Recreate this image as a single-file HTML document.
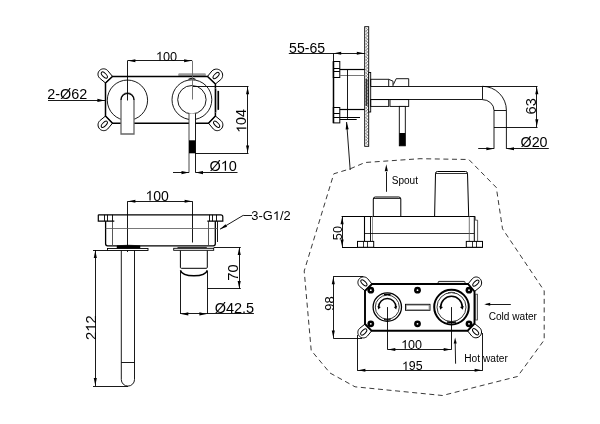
<!DOCTYPE html>
<html><head><meta charset="utf-8"><style>
html,body{margin:0;padding:0;background:#fff;}
svg{display:block;font-family:"Liberation Sans",sans-serif;will-change:transform;}
</style></head><body>
<svg width="600" height="424" viewBox="0 0 600 424">
<rect x="0" y="0" width="600" height="424" fill="#fff"/>
<path d="M112.50,76.40 L107.57,70.48 C105.42,68.33 101.88,68.28 99.67,70.37 C97.45,72.45 97.40,75.89 99.55,78.04 L105.50,83.00 Z" stroke="#000" stroke-width="1.0" fill="#fff" />
<ellipse cx="104.33" cy="75.03" rx="3.9" ry="1.8" transform="rotate(225 104.33 75.03)" stroke="#000" stroke-width="1.0" fill="none"/>
<path d="M215.40,84.00 L220.87,79.52 C223.28,77.11 223.24,73.23 220.78,70.87 C218.32,68.50 214.37,68.54 211.96,70.95 L207.50,76.40 Z" stroke="#000" stroke-width="1.0" fill="#fff" />
<ellipse cx="216.12" cy="75.53" rx="3.9" ry="1.8" transform="rotate(-45 216.12 75.53)" stroke="#000" stroke-width="1.0" fill="none"/>
<path d="M105.50,116.00 L99.72,120.79 C97.49,123.02 97.46,126.67 99.67,128.93 C101.87,131.20 105.47,131.22 107.70,128.99 L112.50,123.20 Z" stroke="#000" stroke-width="1.0" fill="#fff" />
<ellipse cx="104.33" cy="124.27" rx="3.9" ry="1.8" transform="rotate(135 104.33 124.27)" stroke="#000" stroke-width="1.0" fill="none"/>
<path d="M208.50,123.20 L213.33,129.02 C215.55,131.24 219.11,131.20 221.28,128.93 C223.46,126.67 223.42,123.03 221.20,120.81 L215.40,116.00 Z" stroke="#000" stroke-width="1.0" fill="#fff" />
<ellipse cx="216.62" cy="124.27" rx="3.9" ry="1.8" transform="rotate(45 216.62 124.27)" stroke="#000" stroke-width="1.0" fill="none"/>
<rect x="178.3" y="73.2" width="27.5" height="3.4" rx="1" stroke="#000" stroke-width="0" fill="#9a9a9a"/>
<path d="M112.5,76.4 L207.5,76.4 L215.4,84 L215.4,116 L208.5,123.2 L112.5,123.2 L105.5,116 L105.5,83 Z" stroke="#000" stroke-width="1.5" fill="none" />
<rect x="217.4" y="90.8" width="1.7" height="19.2" rx="0.8" stroke="#000" stroke-width="0" fill="#000"/>
<path d="M215.4,88 Q216.8,89 216.8,91 L216.8,110 Q216.8,112 215.4,113" stroke="#888" stroke-width="0.7" fill="none" />
<circle cx="127.45" cy="100.2" r="20.15" stroke="#000" stroke-width="0.9" fill="none"/>
<circle cx="191.9" cy="99.7" r="19.9" stroke="#000" stroke-width="0.9" fill="none"/>
<circle cx="191.9" cy="99.7" r="14.2" stroke="#000" stroke-width="0.9" fill="none"/>
<path d="M121,134 L121,99.5 A6.5,6.5 0 0 1 134,99.5 L134,134 Z" stroke="#666" stroke-width="1.3" fill="#fff" />
<path d="M121,100 A6.5,6.5 0 0 1 134,100" stroke="#000" stroke-width="1.1" fill="none" />
<rect x="189" y="113.4" width="6.5" height="59.2" rx="0" stroke="#000" stroke-width="0" fill="#fff"/>
<path d="M189,113.4 L189,172.6" stroke="#333" stroke-width="0.9" fill="none" />
<line x1="195.5" y1="113.4" x2="195.5" y2="172.6" stroke="#000" stroke-width="0.9" />
<rect x="189" y="140.3" width="6.5" height="13" rx="0" stroke="#000" stroke-width="0" fill="#000"/>
<path d="M188.5,79.6 Q192,77.2 195.5,79.6" stroke="#222" stroke-width="1.2" fill="none" />
<line x1="127.5" y1="60.7" x2="127.5" y2="100.5" stroke="#000" stroke-width="0.9" />
<line x1="192.5" y1="60.7" x2="192.5" y2="99.5" stroke="#666" stroke-width="0.9" />
<line x1="127.5" y1="60.5" x2="192" y2="60.5" stroke="#000" stroke-width="0.9" />
<path d="M128.10,60.70 L135.40,59.15 L135.40,62.25 Z" fill="#000" stroke="none"/>
<path d="M191.40,60.70 L184.10,62.25 L184.10,59.15 Z" fill="#000" stroke="none"/>
<line x1="48" y1="100.5" x2="105" y2="100.5" stroke="#000" stroke-width="0.9" />
<path d="M104.70,100.40 L97.40,101.95 L97.40,98.85 Z" fill="#000" stroke="none"/>
<line x1="193" y1="86.5" x2="248.5" y2="86.5" stroke="#000" stroke-width="0.9" />
<line x1="195" y1="153.5" x2="248.5" y2="153.5" stroke="#000" stroke-width="0.9" />
<line x1="247.5" y1="86.3" x2="247.5" y2="153.3" stroke="#000" stroke-width="0.9" />
<path d="M247.60,86.90 L249.15,94.20 L246.05,94.20 Z" fill="#000" stroke="none"/>
<path d="M247.60,152.70 L246.05,145.40 L249.15,145.40 Z" fill="#000" stroke="none"/>
<line x1="173" y1="172.5" x2="189" y2="172.5" stroke="#000" stroke-width="0.9" />
<path d="M188.80,172.60 L181.50,174.15 L181.50,171.05 Z" fill="#000" stroke="none"/>
<line x1="195.5" y1="172.5" x2="237.5" y2="172.5" stroke="#000" stroke-width="0.9" />
<path d="M195.70,172.60 L203.00,171.05 L203.00,174.15 Z" fill="#000" stroke="none"/>
<rect x="364.7" y="26.7" width="4" height="119.6" rx="0" stroke="#000" stroke-width="0.9" fill="#fff"/>
<path d="M365.6,28 L367.8,29.6 L365.6,31.2 L367.8,32.8 L365.6,34.4 L367.8,36.0 L365.6,37.6 L367.8,39.2 L365.6,40.8 L367.8,42.4 L365.6,44.0 L367.8,45.6 L365.6,47.2 L367.8,48.8 L365.6,50.4 L367.8,52.0 L365.6,53.6 L367.8,55.2 L365.6,56.8 L367.8,58.4 L365.6,60.0 L367.8,61.6 L365.6,63.2 L367.8,64.8 L365.6,66.4 L367.8,68.0 L365.6,69.6 L367.8,71.2 L365.6,72.8 L367.8,74.4 L365.6,76.0 L367.8,77.6 L365.6,79.2 L367.8,80.8 L365.6,82.4 L367.8,84.0 L365.6,85.6 L367.8,87.2 L365.6,88.8 L367.8,90.4 L365.6,92.0 L367.8,93.6 L365.6,95.2 L367.8,96.8 L365.6,98.4 L367.8,100.0 L365.6,101.6 L367.8,103.2 L365.6,104.8 L367.8,106.4 L365.6,108.0 L367.8,109.6 L365.6,111.2 L367.8,112.8 L365.6,114.4 L367.8,116.0 L365.6,117.6 L367.8,119.2 L365.6,120.8 L367.8,122.4 L365.6,124.0 L367.8,125.6 L365.6,127.2 L367.8,128.8 L365.6,130.4 L367.8,132.0 L365.6,133.6 L367.8,135.2 L365.6,136.8 L367.8,138.4 L365.6,140.0 L367.8,141.6 L365.6,143.2 L367.8,144.8" stroke="#444" stroke-width="0.6" fill="none" />
<rect x="365.6" y="79" width="1.8" height="27" rx="0" stroke="#000" stroke-width="0" fill="#333"/>
<line x1="288.8" y1="53.5" x2="365" y2="53.5" stroke="#000" stroke-width="0.9" />
<path d="M333.90,53.30 L341.20,51.75 L341.20,54.85 Z" fill="#000" stroke="none"/>
<path d="M364.10,53.30 L356.80,54.85 L356.80,51.75 Z" fill="#000" stroke="none"/>
<line x1="333.5" y1="53.3" x2="333.5" y2="62" stroke="#000" stroke-width="0.9" />
<line x1="333.5" y1="61.5" x2="333.5" y2="123" stroke="#000" stroke-width="1.5" />
<rect x="333.3" y="61.5" width="6.5" height="16" rx="0" stroke="#000" stroke-width="1.0" fill="none"/>
<line x1="333.3" y1="68.5" x2="339.8" y2="68.5" stroke="#000" stroke-width="1.0" />
<line x1="333.3" y1="71.5" x2="339.8" y2="71.5" stroke="#000" stroke-width="1.0" />
<rect x="333.3" y="107.5" width="6.5" height="15.4" rx="0" stroke="#000" stroke-width="1.0" fill="none"/>
<line x1="333.3" y1="113.5" x2="339.8" y2="113.5" stroke="#000" stroke-width="1.0" />
<line x1="333.3" y1="117.5" x2="339.8" y2="117.5" stroke="#000" stroke-width="1.0" />
<line x1="339.8" y1="69.5" x2="364.6" y2="69.5" stroke="#000" stroke-width="1.2" />
<line x1="339.8" y1="75.5" x2="364.6" y2="75.5" stroke="#777" stroke-width="1.0" />
<line x1="339.8" y1="109.5" x2="364.6" y2="109.5" stroke="#000" stroke-width="1.2" />
<line x1="339.8" y1="117.5" x2="360" y2="117.5" stroke="#000" stroke-width="1.0" />
<line x1="339.8" y1="119.5" x2="356.7" y2="119.5" stroke="#000" stroke-width="1.0" />
<line x1="347.5" y1="69.3" x2="347.5" y2="118.8" stroke="#000" stroke-width="0.9" />
<rect x="368.7" y="72.5" width="2" height="39.5" rx="0" stroke="#000" stroke-width="0.9" fill="#fff"/>
<path d="M370.7,86.3 L370.7,79.3 L388.7,79.3 L388.7,86.3 M388.7,79.3 L393,81.2 L393,86.3 M393.4,84.5 L396.2,78.7 L408.7,78.7 L408.7,86.3" stroke="#000" stroke-width="0.9" fill="none" />
<rect x="370.7" y="99.6" width="18" height="6.8" rx="0" stroke="#000" stroke-width="0.9" fill="none"/>
<rect x="390" y="99.6" width="18.7" height="6.8" rx="0" stroke="#000" stroke-width="0.9" fill="none"/>
<line x1="370.7" y1="86.5" x2="482.3" y2="86.5" stroke="#000" stroke-width="0.9" />
<line x1="370.7" y1="99.5" x2="482.3" y2="99.5" stroke="#000" stroke-width="0.9" />
<line x1="482.5" y1="86.3" x2="482.5" y2="99.6" stroke="#000" stroke-width="0.9" />
<path d="M482.3,86.3 A24.1,24 0 0 1 506.4,110.3 L506.4,148.8" stroke="#000" stroke-width="0.9" fill="none" />
<path d="M482.3,99.6 A11.7,10.7 0 0 1 494,110.3 L494,148.8" stroke="#000" stroke-width="0.9" fill="none" />
<line x1="494" y1="110.5" x2="506.4" y2="110.5" stroke="#000" stroke-width="0.9" />
<rect x="399.3" y="106.4" width="6" height="39.4" rx="0" stroke="#000" stroke-width="0.9" fill="#fff"/>
<rect x="399.3" y="133" width="6" height="12.8" rx="0" stroke="#000" stroke-width="0" fill="#000"/>
<line x1="482.3" y1="86.5" x2="537.5" y2="86.5" stroke="#000" stroke-width="0.9" />
<line x1="494" y1="127.5" x2="537.5" y2="127.5" stroke="#000" stroke-width="0.9" />
<line x1="536.5" y1="86.3" x2="536.5" y2="127.2" stroke="#000" stroke-width="0.9" />
<path d="M536.80,86.90 L538.35,94.20 L535.25,94.20 Z" fill="#000" stroke="none"/>
<path d="M536.80,126.60 L535.25,119.30 L538.35,119.30 Z" fill="#000" stroke="none"/>
<line x1="478.2" y1="148.5" x2="494" y2="148.5" stroke="#000" stroke-width="0.9" />
<path d="M493.70,148.80 L486.40,150.35 L486.40,147.25 Z" fill="#000" stroke="none"/>
<line x1="506.4" y1="148.5" x2="548.8" y2="148.5" stroke="#000" stroke-width="0.9" />
<path d="M506.70,148.80 L514.00,147.25 L514.00,150.35 Z" fill="#000" stroke="none"/>
<line x1="346.6" y1="122" x2="350.2" y2="170" stroke="#000" stroke-width="0.9" />
<path d="M346.60,122.00 L348.69,129.16 L345.60,129.40 Z" fill="#000" stroke="none"/>
<path d="M350.2,168.8 L365,162.5 L420,158.7 L468.8,159.5 L496.3,187.5 L502.5,228.8 L544.2,290.8 L544.2,340 L517.5,376.5 L442.5,395.5 L355,386.8 L330,373 L311.2,350.4 L304.2,271 L333.8,173.8 L350.2,168.8" stroke="#222" stroke-width="0.9" fill="none" stroke-dasharray="5,3.6" stroke-linejoin="round"/>
<line x1="127.5" y1="201.5" x2="192.5" y2="201.5" stroke="#000" stroke-width="0.9" />
<path d="M128.10,201.30 L135.40,199.75 L135.40,202.85 Z" fill="#000" stroke="none"/>
<path d="M191.90,201.30 L184.60,202.85 L184.60,199.75 Z" fill="#000" stroke="none"/>
<line x1="127.5" y1="201.3" x2="127.5" y2="252" stroke="#000" stroke-width="0.9" />
<line x1="192.5" y1="201.3" x2="192.5" y2="242.5" stroke="#000" stroke-width="0.9" />
<path d="M105.6,221.2 L105.6,243.8 Q105.6,245.8 107.6,245.8 L213.3,245.8 Q215.3,245.8 215.3,243.8 L215.3,221.2" stroke="#000" stroke-width="1.3" fill="none" />
<line x1="112.5" y1="221.2" x2="112.5" y2="245.8" stroke="#444" stroke-width="0.9" />
<line x1="208.5" y1="221.2" x2="208.5" y2="245.8" stroke="#444" stroke-width="0.9" />
<line x1="217.5" y1="221.2" x2="217.5" y2="242" stroke="#000" stroke-width="0.9" />
<line x1="105.6" y1="228.5" x2="217.6" y2="228.5" stroke="#555" stroke-width="0.8" />
<path d="M98.3,214.8 L220.8,214.8 Q222.8,214.8 222.8,216.8 L222.8,221.2 L207.3,221.2" stroke="#000" stroke-width="1.2" fill="none" />
<path d="M114.3,221.2 L98.3,221.2 L98.3,214.8" stroke="#000" stroke-width="1.2" fill="none" />
<line x1="104.5" y1="214.8" x2="104.5" y2="221.2" stroke="#000" stroke-width="0.9" />
<line x1="107.5" y1="214.8" x2="107.5" y2="221.2" stroke="#000" stroke-width="0.9" />
<line x1="112.5" y1="214.8" x2="112.5" y2="221.2" stroke="#000" stroke-width="0.9" />
<line x1="209.5" y1="214.8" x2="209.5" y2="221.2" stroke="#000" stroke-width="0.9" />
<line x1="212.5" y1="214.8" x2="212.5" y2="221.2" stroke="#000" stroke-width="0.9" />
<line x1="216.5" y1="214.8" x2="216.5" y2="221.2" stroke="#000" stroke-width="0.9" />
<path d="M117,245.8 Q128.5,244.5 140,245.8 L140,248.5 L117,248.5 Z" stroke="#000" stroke-width="0.5" fill="#000" />
<rect x="107.5" y="248.5" width="40.5" height="2" rx="0" stroke="#000" stroke-width="0.9" fill="#fff"/>
<rect x="173.7" y="248.3" width="40" height="2" rx="0" stroke="#000" stroke-width="0.9" fill="#fff"/>
<path d="M121.3,250.5 L121.3,379.5 A6.6,6.6 0 0 0 134.5,379.5 L134.5,250.5" stroke="#000" stroke-width="0.9" fill="none" />
<line x1="121.3" y1="362.5" x2="134.5" y2="362.5" stroke="#000" stroke-width="0.9" />
<line x1="93" y1="250.5" x2="107.5" y2="250.5" stroke="#000" stroke-width="0.9" />
<line x1="93" y1="386.5" x2="128" y2="386.5" stroke="#000" stroke-width="0.9" />
<line x1="95.5" y1="250" x2="95.5" y2="386" stroke="#000" stroke-width="0.9" />
<path d="M95.30,250.60 L96.85,257.90 L93.75,257.90 Z" fill="#000" stroke="none"/>
<path d="M95.30,385.40 L93.75,378.10 L96.85,378.10 Z" fill="#000" stroke="none"/>
<line x1="177.5" y1="247.5" x2="206.8" y2="247.5" stroke="#333" stroke-width="1.2" />
<path d="M180.4,250.6 L180.4,267.3 Q180.4,268.3 181.4,268.3 L206.3,268.3 Q207.3,268.3 207.3,267.3 L207.3,250.6" stroke="#000" stroke-width="1.0" fill="none" />
<path d="M180.4,270.2 Q182,275.8 193.9,275.8 Q205.8,275.8 207.3,270.2" stroke="#000" stroke-width="1.4" fill="none" />
<line x1="180.5" y1="271" x2="180.5" y2="313.9" stroke="#000" stroke-width="0.9" />
<line x1="207.5" y1="271" x2="207.5" y2="313.9" stroke="#000" stroke-width="0.9" />
<line x1="213.7" y1="247.5" x2="240.8" y2="247.5" stroke="#000" stroke-width="0.9" />
<line x1="207.5" y1="288.5" x2="240.8" y2="288.5" stroke="#000" stroke-width="0.9" />
<line x1="239.5" y1="247.2" x2="239.5" y2="288.8" stroke="#000" stroke-width="0.9" />
<path d="M239.20,247.80 L240.75,255.10 L237.65,255.10 Z" fill="#000" stroke="none"/>
<path d="M239.20,288.20 L237.65,280.90 L240.75,280.90 Z" fill="#000" stroke="none"/>
<line x1="180.3" y1="313.5" x2="253.9" y2="313.5" stroke="#000" stroke-width="0.9" />
<path d="M181.00,313.90 L188.30,312.35 L188.30,315.45 Z" fill="#000" stroke="none"/>
<path d="M206.70,313.90 L199.40,315.45 L199.40,312.35 Z" fill="#000" stroke="none"/>
<line x1="220" y1="229.2" x2="243.3" y2="215.3" stroke="#000" stroke-width="0.9" />
<line x1="243.3" y1="215.5" x2="252" y2="215.5" stroke="#000" stroke-width="0.9" />
<path d="M220.00,229.20 L225.49,224.14 L227.07,226.81 Z" fill="#000" stroke="none"/>
<line x1="386.5" y1="172" x2="386.5" y2="191.8" stroke="#000" stroke-width="0.9" />
<path d="M386.30,164.30 L387.85,171.30 L384.75,171.30 Z" fill="#000" stroke="none"/>
<path d="M373.3,216.3 L373.3,199 Q373.3,197 375.3,197 L398.8,197 Q400.8,197 400.8,199 L400.8,216.3" stroke="#000" stroke-width="1.0" fill="none" />
<line x1="373.5" y1="198.5" x2="400.6" y2="198.5" stroke="#000" stroke-width="0.8" />
<path d="M434.6,216.3 L435.5,173.5 Q435.5,171.5 437.5,171.5 L465.5,171.5 Q467.5,171.5 467.5,173.5 L468.7,216.3" stroke="#000" stroke-width="1.0" fill="none" />
<line x1="435.5" y1="173.5" x2="467.5" y2="173.5" stroke="#000" stroke-width="0.8" />
<line x1="341.6" y1="216.5" x2="475" y2="216.5" stroke="#000" stroke-width="1.2" />
<line x1="342" y1="247.5" x2="482.5" y2="247.5" stroke="#000" stroke-width="1.2" />
<line x1="364.5" y1="216.3" x2="364.5" y2="241.4" stroke="#000" stroke-width="1.1" />
<line x1="370.5" y1="216.3" x2="370.5" y2="241.4" stroke="#000" stroke-width="0.9" />
<line x1="372.5" y1="216.3" x2="372.5" y2="241.4" stroke="#777" stroke-width="0.8" />
<line x1="364.7" y1="233.5" x2="474" y2="233.5" stroke="#000" stroke-width="0.8" />
<path d="M469.3,216.3 L469.3,241.4" stroke="#555" stroke-width="0.8" fill="none" />
<path d="M474.3,216.3 L474.3,241.4" stroke="#000" stroke-width="1.0" fill="none" />
<path d="M475.3,216.3 L475.3,220.2 L477.6,220.2 L477.6,241.4" stroke="#333" stroke-width="0.8" fill="none" />
<rect x="357.5" y="241.4" width="16.2" height="5.9" rx="0" stroke="#000" stroke-width="1.0" fill="#fff"/>
<line x1="363.5" y1="241.4" x2="363.5" y2="247.3" stroke="#000" stroke-width="0.8" />
<line x1="367.5" y1="241.4" x2="367.5" y2="247.3" stroke="#000" stroke-width="0.8" />
<rect x="466.3" y="241.4" width="16.2" height="5.9" rx="0" stroke="#000" stroke-width="1.0" fill="#fff"/>
<line x1="472.5" y1="241.4" x2="472.5" y2="247.3" stroke="#000" stroke-width="0.8" />
<line x1="476.5" y1="241.4" x2="476.5" y2="247.3" stroke="#000" stroke-width="0.8" />
<line x1="342.5" y1="216.3" x2="342.5" y2="247.3" stroke="#000" stroke-width="0.9" />
<path d="M342.10,216.90 L343.65,224.20 L340.55,224.20 Z" fill="#000" stroke="none"/>
<path d="M342.10,246.70 L340.55,239.40 L343.65,239.40 Z" fill="#000" stroke="none"/>
<line x1="333.3" y1="276.5" x2="363.3" y2="276.5" stroke="#000" stroke-width="0.9" />
<line x1="333.3" y1="338.5" x2="362" y2="338.5" stroke="#000" stroke-width="0.9" />
<line x1="333.5" y1="276.3" x2="333.5" y2="338.3" stroke="#000" stroke-width="0.9" />
<path d="M333.30,276.90 L334.85,284.20 L331.75,284.20 Z" fill="#000" stroke="none"/>
<path d="M333.30,337.70 L331.75,330.40 L334.85,330.40 Z" fill="#000" stroke="none"/>
<path d="M372.00,284.00 L367.54,278.55 C365.36,276.37 361.80,276.34 359.59,278.49 C357.38,280.64 357.35,284.14 359.53,286.32 L365.00,290.80 Z" stroke="#000" stroke-width="1.0" fill="#fff" />
<ellipse cx="363.90" cy="282.80" rx="3.9" ry="1.8" transform="rotate(225 363.90 282.80)" stroke="#000" stroke-width="1.0" fill="none"/>
<path d="M474.50,291.50 L479.86,287.12 C482.08,284.91 482.21,281.20 480.16,278.84 C478.11,276.48 474.66,276.35 472.45,278.57 L468.00,284.00 Z" stroke="#000" stroke-width="1.0" fill="#fff" />
<ellipse cx="475.85" cy="283.15" rx="3.9" ry="1.8" transform="rotate(-45 475.85 283.15)" stroke="#000" stroke-width="1.0" fill="none"/>
<path d="M365.00,324.00 L359.47,328.54 C357.33,330.68 357.32,334.16 359.44,336.31 C361.56,338.46 365.01,338.48 367.15,336.34 L371.70,330.80 Z" stroke="#000" stroke-width="1.0" fill="#fff" />
<ellipse cx="363.75" cy="332.00" rx="3.9" ry="1.8" transform="rotate(135 363.75 332.00)" stroke="#000" stroke-width="1.0" fill="none"/>
<path d="M467.50,330.80 L471.85,336.14 C474.10,338.39 477.71,338.35 479.91,336.06 C482.11,333.76 482.07,330.08 479.82,327.83 L474.50,323.50 Z" stroke="#000" stroke-width="1.0" fill="#fff" />
<ellipse cx="475.60" cy="331.75" rx="3.9" ry="1.8" transform="rotate(45 475.60 331.75)" stroke="#000" stroke-width="1.0" fill="none"/>
<rect x="438.2" y="281.4" width="26.8" height="2.8" rx="0.8" stroke="#222" stroke-width="1.0" fill="#eee"/>
<path d="M372,284 L468,284 L474.5,291.5 L474.5,323.5 L467.5,330.8 L371.7,330.8 L365,324 L365,290.8 Z" stroke="#000" stroke-width="1.9" fill="none" />
<rect x="475.4" y="294.2" width="2.1" height="25.8" rx="0" stroke="#333" stroke-width="0.8" fill="#ddd"/>
<circle cx="370.8" cy="290.2" r="3.4" stroke="#000" stroke-width="0" fill="#000"/>
<circle cx="370.8" cy="290.2" r="0.9" stroke="#000" stroke-width="0" fill="#fff"/>
<circle cx="417.5" cy="290.2" r="3.4" stroke="#000" stroke-width="0" fill="#000"/>
<circle cx="417.5" cy="290.2" r="0.9" stroke="#000" stroke-width="0" fill="#fff"/>
<circle cx="469" cy="290.2" r="3.4" stroke="#000" stroke-width="0" fill="#000"/>
<circle cx="469" cy="290.2" r="0.9" stroke="#000" stroke-width="0" fill="#fff"/>
<circle cx="370.8" cy="323.8" r="3.4" stroke="#000" stroke-width="0" fill="#000"/>
<circle cx="370.8" cy="323.8" r="0.9" stroke="#000" stroke-width="0" fill="#fff"/>
<circle cx="417.5" cy="323.8" r="3.4" stroke="#000" stroke-width="0" fill="#000"/>
<circle cx="417.5" cy="323.8" r="0.9" stroke="#000" stroke-width="0" fill="#fff"/>
<circle cx="469" cy="323.8" r="3.4" stroke="#000" stroke-width="0" fill="#000"/>
<circle cx="469" cy="323.8" r="0.9" stroke="#000" stroke-width="0" fill="#fff"/>
<circle cx="387.3" cy="307.1" r="14.2" stroke="#000" stroke-width="1.3" fill="none"/>
<circle cx="387.3" cy="307.1" r="12.0" stroke="#000" stroke-width="0.8" fill="none"/>
<path d="M378.7,307.1 A8.6,8.6 0 0 1 395.9,307.1" stroke="#000" stroke-width="1.5" fill="none" />
<path d="M378.40,309.40 L377.48,306.08 L380.78,306.90 Z" fill="#000" stroke="none"/>
<path d="M396.20,309.40 L393.82,306.90 L397.12,306.08 Z" fill="#000" stroke="none"/>
<path d="M384,294.6 Q387.3,294.0 390.6,294.6" stroke="#000" stroke-width="1.2" fill="none"/>
<path d="M384,319.6 Q387.3,320.2 390.6,319.6" stroke="#000" stroke-width="1.2" fill="none"/>
<circle cx="451.5" cy="307.1" r="17.3" stroke="#000" stroke-width="2.0" fill="none"/>
<circle cx="451.5" cy="307.1" r="14.5" stroke="#000" stroke-width="0.8" fill="none"/>
<path d="M440.7,307.1 A10.8,10.8 0 0 1 462.3,307.1" stroke="#000" stroke-width="1.6" fill="none" />
<path d="M440.30,309.80 L439.28,306.04 L442.97,306.96 Z" fill="#000" stroke="none"/>
<path d="M462.70,309.80 L460.03,306.96 L463.72,306.04 Z" fill="#000" stroke="none"/>
<path d="M448,292.6 Q451.5,292.0 455,292.6" stroke="#444" stroke-width="1.0" fill="none"/>
<path d="M447,322.0 Q451.5,322.8 456,322.0" stroke="#000" stroke-width="1.4" fill="none"/>
<rect x="405.5" y="304.3" width="24.5" height="6" rx="0" stroke="#000" stroke-width="0.9" fill="#fff"/>
<rect x="406.5" y="305.3" width="22.5" height="4" rx="0" stroke="#888" stroke-width="0.6" fill="none"/>
<line x1="387.5" y1="307.1" x2="387.5" y2="349.5" stroke="#000" stroke-width="0.9" />
<line x1="451.5" y1="307.1" x2="451.5" y2="349.5" stroke="#000" stroke-width="0.9" />
<line x1="387.4" y1="349.5" x2="451.6" y2="349.5" stroke="#000" stroke-width="0.9" />
<path d="M388.00,349.50 L395.30,347.95 L395.30,351.05 Z" fill="#000" stroke="none"/>
<path d="M451.00,349.50 L443.70,351.05 L443.70,347.95 Z" fill="#000" stroke="none"/>
<line x1="357.5" y1="335" x2="357.5" y2="370.8" stroke="#000" stroke-width="0.9" />
<line x1="482.5" y1="333" x2="482.5" y2="370.8" stroke="#000" stroke-width="0.9" />
<line x1="357.5" y1="370.5" x2="482.5" y2="370.5" stroke="#000" stroke-width="0.9" />
<path d="M358.10,370.30 L365.40,368.75 L365.40,371.85 Z" fill="#000" stroke="none"/>
<path d="M481.90,370.30 L474.60,371.85 L474.60,368.75 Z" fill="#000" stroke="none"/>
<line x1="486" y1="304.5" x2="510.8" y2="304.5" stroke="#000" stroke-width="0.9" />
<path d="M484.20,304.20 L490.20,302.70 L490.20,305.70 Z" fill="#000" stroke="none"/>
<line x1="455.2" y1="343" x2="455.6" y2="363.7" stroke="#000" stroke-width="0.9" />
<path d="M455.10,337.50 L456.72,343.47 L453.72,343.53 Z" fill="#000" stroke="none"/>
<g transform="translate(155.82966796875,60.5)"><text x="0" y="0" font-size="12.74" fill="#000"> 00</text><path transform="translate(0.000,0) scale(0.00622,-0.00622)" d="M583,0 L583,1150 Q500,1070 390,1005 Q290,945 230,920 L230,1092 Q380,1160 490,1255 Q600,1350 650,1409 L763,1409 L763,0 Z" fill="#000"/></g>
<g transform="translate(47.28,98.84)"><text x="0" y="0" font-size="14.36" fill="#000">2-Ø62</text></g>
<g transform="translate(209.38,170.64)"><text x="0" y="0" font-size="14.5" fill="#000">Ø 0</text><path transform="translate(11.279,0) scale(0.00708,-0.00708)" d="M583,0 L583,1150 Q500,1070 390,1005 Q290,945 230,920 L230,1092 Q380,1160 490,1255 Q600,1350 650,1409 L763,1409 L763,0 Z" fill="#000"/></g>
<g transform="translate(246.3,132.837421875) rotate(-90)"><text x="0" y="0" font-size="14.32" fill="#000"> 04</text><path transform="translate(0.000,0) scale(0.00699,-0.00699)" d="M583,0 L583,1150 Q500,1070 390,1005 Q290,945 230,920 L230,1092 Q380,1160 490,1255 Q600,1350 650,1409 L763,1409 L763,0 Z" fill="#000"/></g>
<g transform="translate(289.05,53.0)"><text x="0" y="0" font-size="14.08" fill="#000">55-65</text></g>
<g transform="translate(536.0,114.48) rotate(-90)"><text x="0" y="0" font-size="14.63" fill="#000">63</text></g>
<g transform="translate(520.59,147.24)"><text x="0" y="0" font-size="14.28" fill="#000">Ø20</text></g>
<g transform="translate(145.443056640625,200.5)"><text x="0" y="0" font-size="14.03" fill="#000"> 00</text><path transform="translate(0.000,0) scale(0.00685,-0.00685)" d="M583,0 L583,1150 Q500,1070 390,1005 Q290,945 230,920 L230,1092 Q380,1160 490,1255 Q600,1350 650,1409 L763,1409 L763,0 Z" fill="#000"/></g>
<g transform="translate(251.36,220.0)"><text x="0" y="0" font-size="12.88" fill="#000">3-G /2</text><path transform="translate(21.471,0) scale(0.00629,-0.00629)" d="M583,0 L583,1150 Q500,1070 390,1005 Q290,945 230,920 L230,1092 Q380,1160 490,1255 Q600,1350 650,1409 L763,1409 L763,0 Z" fill="#000"/></g>
<g transform="translate(238.3,280.73) rotate(-90)"><text x="0" y="0" font-size="14.63" fill="#000">70</text></g>
<g transform="translate(95.9,340.04) rotate(-90)"><text x="0" y="0" font-size="14.79" fill="#000">2 2</text><path transform="translate(8.225,0) scale(0.00722,-0.00722)" d="M583,0 L583,1150 Q500,1070 390,1005 Q290,945 230,920 L230,1092 Q380,1160 490,1255 Q600,1350 650,1409 L763,1409 L763,0 Z" fill="#000"/></g>
<g transform="translate(214.67,313.04)"><text x="0" y="0" font-size="14.51" fill="#000">Ø42.5</text></g>
<g transform="translate(341.6,240.14) rotate(-90)"><text x="0" y="0" font-size="12.78" fill="#000">50</text></g>
<g transform="translate(334.0,310.65) rotate(-90)"><text x="0" y="0" font-size="12.98" fill="#000">98</text></g>
<g transform="translate(401.10544921875,348.7)"><text x="0" y="0" font-size="12.58" fill="#000"> 00</text><path transform="translate(0.000,0) scale(0.00614,-0.00614)" d="M583,0 L583,1150 Q500,1070 390,1005 Q290,945 230,920 L230,1092 Q380,1160 490,1255 Q600,1350 650,1409 L763,1409 L763,0 Z" fill="#000"/></g>
<g transform="translate(401.922314453125,370.0)"><text x="0" y="0" font-size="12.39" fill="#000"> 95</text><path transform="translate(0.000,0) scale(0.00605,-0.00605)" d="M583,0 L583,1150 Q500,1070 390,1005 Q290,945 230,920 L230,1092 Q380,1160 490,1255 Q600,1350 650,1409 L763,1409 L763,0 Z" fill="#000"/></g>
<g transform="translate(391.7,184.49)"><text x="0" y="0" font-size="10.04" fill="#000">Spout</text></g>
<g transform="translate(488.69,320.0)"><text x="0" y="0" font-size="10.11" fill="#000">Cold water</text></g>
<g transform="translate(464.24,362.0)"><text x="0" y="0" font-size="10.18" fill="#000">Hot water</text></g>
</svg></body></html>
